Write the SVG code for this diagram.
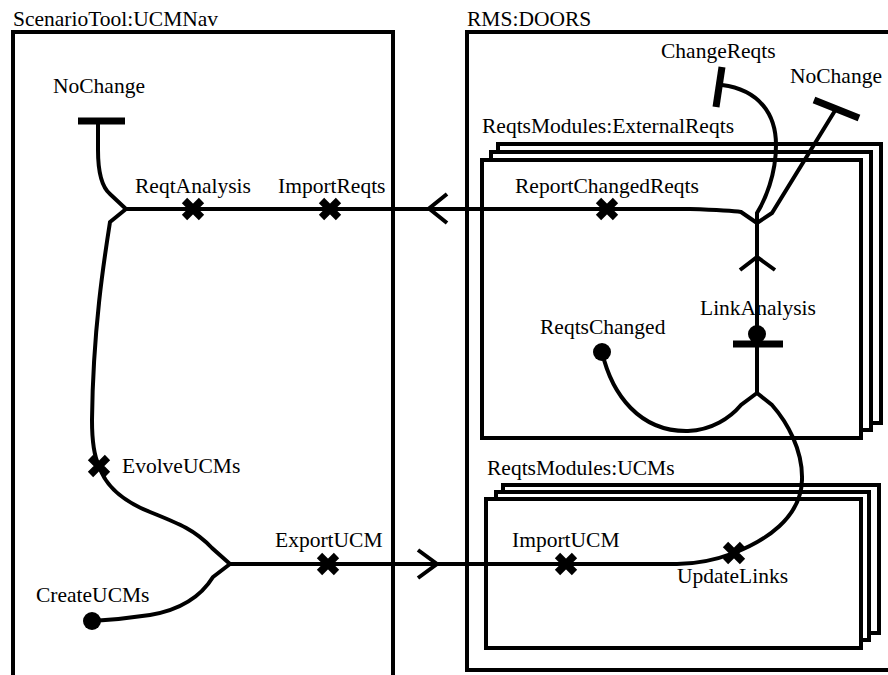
<svg xmlns="http://www.w3.org/2000/svg" width="888" height="675" viewBox="0 0 888 675">
<style>
text{font-family:"Liberation Serif","Times New Roman",serif;font-size:21.5px;fill:#000}
.box{fill:none;stroke:#000;stroke-width:4}
.stk{fill:#fff;stroke:#000;stroke-width:4}
.p{fill:none;stroke:#000;stroke-width:4;stroke-linejoin:miter}
.bar{stroke:#000;stroke-width:7;fill:none}
.x{stroke:#000;stroke-width:7.5;fill:none}
.dot{fill:#000}
</style>
<defs>
<path id="xm" class="x" d="M-8.5,-8.5 L8.5,8.5 M-8.5,8.5 L8.5,-8.5"/>
</defs>
<rect width="888" height="675" fill="#fff"/>
<g id="comp-scenariotool">
<path class="box" d="M13,680 V32 H393 V680"/>
<text x="13" y="26">ScenarioTool:UCMNav</text>
</g>
<g id="comp-rms">
<rect class="box" x="467" y="32" width="430" height="638"/>
<text x="467" y="26">RMS:DOORS</text>
</g>
<g id="comp-externalreqts">
<rect class="stk" x="498" y="144" width="383" height="279"/>
<rect class="stk" x="491" y="152" width="380" height="278"/>
<rect class="stk" x="482" y="160" width="379" height="278"/>
<text x="482" y="133">ReqtsModules:ExternalReqts</text>
</g>
<g id="comp-ucms">
<rect class="stk" x="503" y="485" width="376" height="148"/>
<rect class="stk" x="496" y="492" width="373" height="148"/>
<rect class="stk" x="486" y="499" width="375" height="149"/>
<text x="487" y="475">ReqtsModules:UCMs</text>
</g>
<g id="connectors">
<path class="p" d="M98,121 L98,150 C98,175 103,188 110,194 L126,209"/>
<path class="p" d="M126,209 L690,209 C720,210 735,211 741,212 L757,223"/>
<path class="p" d="M126,209 L110,222 C104,260 93,330 92,420 C92,445 95,458 99,466 C105,485 120,500 150,512 C180,524 195,530 212,548 L230,564"/>
<path class="p" d="M230,564 L213,577 C200,598 180,610 150,615 C130,618 110,620 92,621"/>
<path class="p" d="M230,564 L677,564 C700,564 718,559 734,553 C765,541 801,518 802,480 C803,450 787,422 772,405 L757,393"/>
<path class="p" d="M757,223 L757,393"/>
<path class="p" d="M722,85 C760,90 776,115 776,145 C776,175 765,200 757,213 L757,223"/>
<path class="p" d="M836,109 L772,213 L757,223"/>
<path class="p" d="M602,352 C612,395 640,432 688,431 C712,430 730,418 741,405 L757,393"/>
<path class="p" d="M447,194 L429,208.5 L447,223"/>
<path class="p" d="M418,550 L437,564 L418,578"/>
<path class="p" d="M740,270 L757,257 L775,270"/>
</g>
<g id="end-nochange-left">
<line class="bar" x1="78" y1="121" x2="125" y2="121"/>
<text x="53" y="93">NoChange</text>
</g>
<g id="resp-reqtanalysis">
<use href="#xm" x="193" y="209"/>
<text x="135" y="193">ReqtAnalysis</text>
</g>
<g id="resp-importreqts">
<use href="#xm" x="330" y="209"/>
<text x="278" y="193">ImportReqts</text>
</g>
<g id="resp-reportchangedreqts">
<use href="#xm" x="607" y="209"/>
<text x="515" y="193">ReportChangedReqts</text>
</g>
<g id="end-changereqts">
<line class="bar" x1="722" y1="67" x2="716" y2="107"/>
<text x="661" y="58">ChangeReqts</text>
</g>
<g id="end-nochange-right">
<line class="bar" x1="814" y1="100" x2="859" y2="118"/>
<text x="790" y="83">NoChange</text>
</g>
<g id="linkanalysis">
<line class="bar" x1="733" y1="344" x2="783" y2="344"/>
<circle class="dot" cx="757" cy="334" r="9"/>
<text x="700" y="315">LinkAnalysis</text>
</g>
<g id="start-reqtschanged">
<circle class="dot" cx="602" cy="352" r="9"/>
<text x="540" y="334">ReqtsChanged</text>
</g>
<g id="resp-evolveucms">
<use href="#xm" x="99" y="466"/>
<text x="122" y="473">EvolveUCMs</text>
</g>
<g id="start-createucms">
<circle class="dot" cx="92" cy="621" r="9"/>
<text x="36" y="602">CreateUCMs</text>
</g>
<g id="resp-exportucm">
<use href="#xm" x="328" y="564"/>
<text x="275" y="547">ExportUCM</text>
</g>
<g id="resp-importucm">
<use href="#xm" x="566" y="564"/>
<text x="512" y="547">ImportUCM</text>
</g>
<g id="resp-updatelinks">
<use href="#xm" x="734" y="553"/>
<text x="677" y="583">UpdateLinks</text>
</g>
</svg>
